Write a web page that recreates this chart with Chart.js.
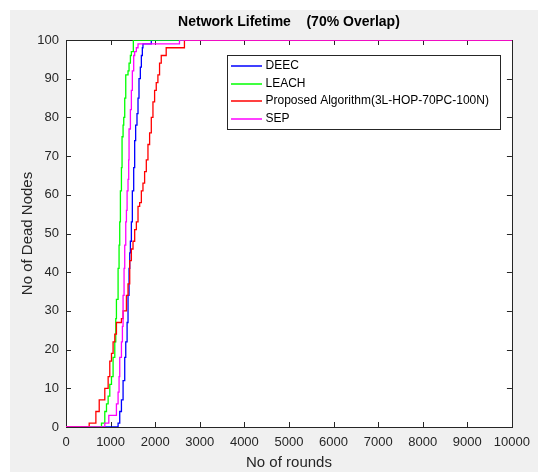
<!DOCTYPE html>
<html lang="en">
<head>
<meta charset="UTF-8">
<title>Network Lifetime (70% Overlap)</title>
<script src="https://cdn.jsdelivr.net/npm/chart.js"></script>
<style>
  * { margin: 0; padding: 0; box-sizing: border-box; }
  html, body { width: 538px; height: 472px; background: #fff; overflow: hidden; }
  #wrap { width: 538px; height: 472px; }
</style>
</head>
<body>
<div id="wrap"><canvas id="lifetime"></canvas></div>
<script>
// tick labels
const xTicks = [0, 1000, 2000, 3000, 4000, 5000, 6000, 7000, 8000, 9000, 10000];
const yTicks = [0, 10, 20, 30, 40, 50, 60, 70, 80, 90, 100];

// series names
const seriesNames = ['DEEC', 'LEACH', 'Proposed Algorithm(3L-HOP-70PC-100N)', 'SEP'];

// DEEC: rounds / dead nodes
const deecRounds = [0, 1153, 1168, 1205, 1243, 1280, 1317, 1340, 1370, 1391, 1414, 1429, 1444, 1466, 1488, 1518, 1540, 1562, 1592, 1615, 1637, 1667, 1690, 1712, 1726, 1913, 10000];
const deecDead   = [0, 0, 1, 4, 7, 12, 18, 22, 27, 34, 41, 45, 48, 53, 61, 67, 74, 78, 81, 85, 90, 93, 96, 98, 99, 100, 100];

// LEACH
const leachRounds = [0, 762, 796, 870, 908, 945, 982, 1020, 1056, 1094, 1116, 1131, 1168, 1190, 1205, 1220, 1243, 1257, 1280, 1295, 1317, 1340, 1391, 1414, 1444, 1466, 1510, 10000];
const leachDead   = [0, 0, 1, 4, 6, 8, 11, 13, 18, 22, 28, 33, 41, 47, 53, 61, 67, 75, 78, 80, 85, 91, 92, 94, 96, 97, 100, 100];

// Proposed algorithm
const propRounds = [0, 520, 670, 745, 870, 945, 982, 1020, 1056, 1094, 1131, 1243, 1280, 1355, 1391, 1429, 1466, 1503, 1540, 1578, 1615, 1652, 1690, 1726, 1763, 1801, 1838, 1875, 1913, 1950, 1987, 2024, 2061, 2098, 2136, 2247, 2656, 10000];
const propDead   = [0, 1, 4, 7, 10, 13, 17, 19, 22, 24, 27, 28, 30, 34, 37, 43, 46, 48, 51, 53, 57, 58, 61, 63, 66, 69, 73, 76, 80, 84, 87, 89, 91, 94, 96, 98, 100, 100];

// SEP
const sepRounds = [0, 870, 960, 1131, 1168, 1190, 1205, 1243, 1265, 1280, 1302, 1317, 1340, 1355, 1370, 1391, 1406, 1414, 1444, 1466, 1488, 1518, 1540, 1578, 1615, 2545, 10000];
const sepDead   = [0, 1, 3, 6, 9, 13, 18, 22, 26, 34, 41, 47, 53, 56, 61, 64, 69, 77, 82, 87, 92, 96, 97, 98, 99, 100, 100];

const colors = ['#0000ff', '#00ff00', '#ff0000', '#ff00ff'];
const FONT = 'Liberation Sans, Arial, Helvetica, sans-serif';
const AXIS = '#262626';

function pts(xs, ys) {
    return xs.map((x, i) => ({ x: x, y: ys[i] }));
}

const allSeries = [
    pts(deecRounds, deecDead),
    pts(leachRounds, leachDead),
    pts(propRounds, propDead),
    pts(sepRounds, sepDead)
];

// gray figure background + white axes
const bgPlugin = {
    id: 'bg',
    beforeDraw(chart) {
        const { ctx, chartArea: a } = chart;
        ctx.save();
        ctx.fillStyle = '#ffffff';
        ctx.fillRect(0, 0, chart.width, chart.height);
        ctx.fillStyle = '#f0f0f0';
        ctx.fillRect(10, 10, chart.width - 10, chart.height - 10);
        ctx.fillStyle = '#ffffff';
        ctx.fillRect(a.left, a.top, a.right - a.left, a.bottom - a.top);
        ctx.restore();
    }
};

// matlab style box with inward ticks
const boxPlugin = {
    id: 'box',
    beforeDatasetsDraw(chart) {
        const { ctx, chartArea: a, scales } = chart;
        ctx.save();
        ctx.strokeStyle = AXIS;
        ctx.lineWidth = 1;
        ctx.strokeRect(Math.round(a.left) + 0.5, Math.round(a.top) + 0.5,
            Math.round(a.right - a.left), Math.round(a.bottom - a.top));
        ctx.beginPath();
        const len = 5;
        xTicks.forEach(v => {
            const px = Math.round(scales.x.getPixelForValue(v)) + 0.5;
            ctx.moveTo(px, a.bottom); ctx.lineTo(px, a.bottom - len);
            ctx.moveTo(px, a.top); ctx.lineTo(px, a.top + len);
        });
        yTicks.forEach(v => {
            const py = Math.round(scales.y.getPixelForValue(v)) + 0.5;
            ctx.moveTo(a.left, py); ctx.lineTo(a.left + len, py);
            ctx.moveTo(a.right, py); ctx.lineTo(a.right - len, py);
        });
        ctx.stroke();
        ctx.restore();
    }
};

// legend box inside the axes (north east)
const legendPlugin = {
    id: 'boxLegend',
    afterDatasetsDraw(chart) {
        const ctx = chart.ctx;
        const left = 227, top = 55, right = 500, bottom = 129;
        ctx.save();
        ctx.fillStyle = '#ffffff';
        ctx.fillRect(left, top, right - left, bottom - top);
        ctx.strokeStyle = AXIS;
        ctx.lineWidth = 1;
        ctx.strokeRect(left + 0.5, top + 0.5, right - left, bottom - top);
        ctx.font = '12px ' + FONT;
        ctx.textBaseline = 'middle';
        ctx.textAlign = 'left';
        chart.data.datasets.forEach((ds, i) => {
            const y = Math.round(66 + i * 17.5);
            ctx.strokeStyle = ds.borderColor;
            ctx.lineWidth = 1.5;
            ctx.beginPath();
            ctx.moveTo(231, y);
            ctx.lineTo(262, y);
            ctx.stroke();
            ctx.fillStyle = '#000';
            ctx.fillText(ds.label, 265.5, y);
        });
        ctx.restore();
    }
};

new Chart(document.getElementById('lifetime'), {
    type: 'line',
    data: {
        datasets: allSeries.map((d, i) => ({
            label: seriesNames[i],
            data: d,
            borderColor: colors[i],
            backgroundColor: colors[i],
            borderWidth: 1.3,
            pointRadius: 0,
            stepped: 'before',
            fill: false,
            order: 4 - i
        }))
    },
    options: {
        responsive: true,
        maintainAspectRatio: false,
        animation: false,
        events: [],
        layout: { padding: { left: 0, right: 24, top: 0, bottom: 0 } },
        plugins: {
            legend: { display: false },
            tooltip: { enabled: false },
            title: {
                display: true,
                text: 'Network Lifetime    (70% Overlap)',
                fullSize: false,
                color: '#000',
                font: { family: FONT, size: 14, weight: 'bold' },
                padding: { top: 14, bottom: 9.2 }
            }
        },
        scales: {
            x: {
                type: 'linear',
                min: 0,
                max: 10000,
                afterBuildTicks: s => { s.ticks = xTicks.map(v => ({ value: v })); },
                afterFit: s => { s.height = 45; },
                grid: { display: false, drawTicks: false },
                border: { display: false },
                ticks: {
                    callback: v => String(v),
                    autoSkip: false,
                    maxRotation: 0,
                    padding: 8,
                    color: AXIS,
                    font: { family: FONT, size: 13 }
                },
                title: {
                    display: true,
                    text: 'No of rounds',
                    color: AXIS,
                    padding: 0,
                    font: { family: FONT, size: 15 }
                }
            },
            y: {
                type: 'linear',
                min: 0,
                max: 100,
                afterBuildTicks: s => { s.ticks = yTicks.map(v => ({ value: v })); },
                afterFit: s => { s.width = 66; },
                grid: { display: false, drawTicks: false },
                border: { display: false },
                ticks: {
                    callback: v => String(v),
                    padding: 7,
                    color: AXIS,
                    font: { family: FONT, size: 13 }
                },
                title: {
                    display: true,
                    text: 'No of Dead Nodes',
                    color: AXIS,
                    padding: { top: 19, bottom: 0 },
                    font: { family: FONT, size: 15 }
                }
            }
        }
    },
    plugins: [bgPlugin, boxPlugin, legendPlugin]
});
</script>
</body>
</html>
